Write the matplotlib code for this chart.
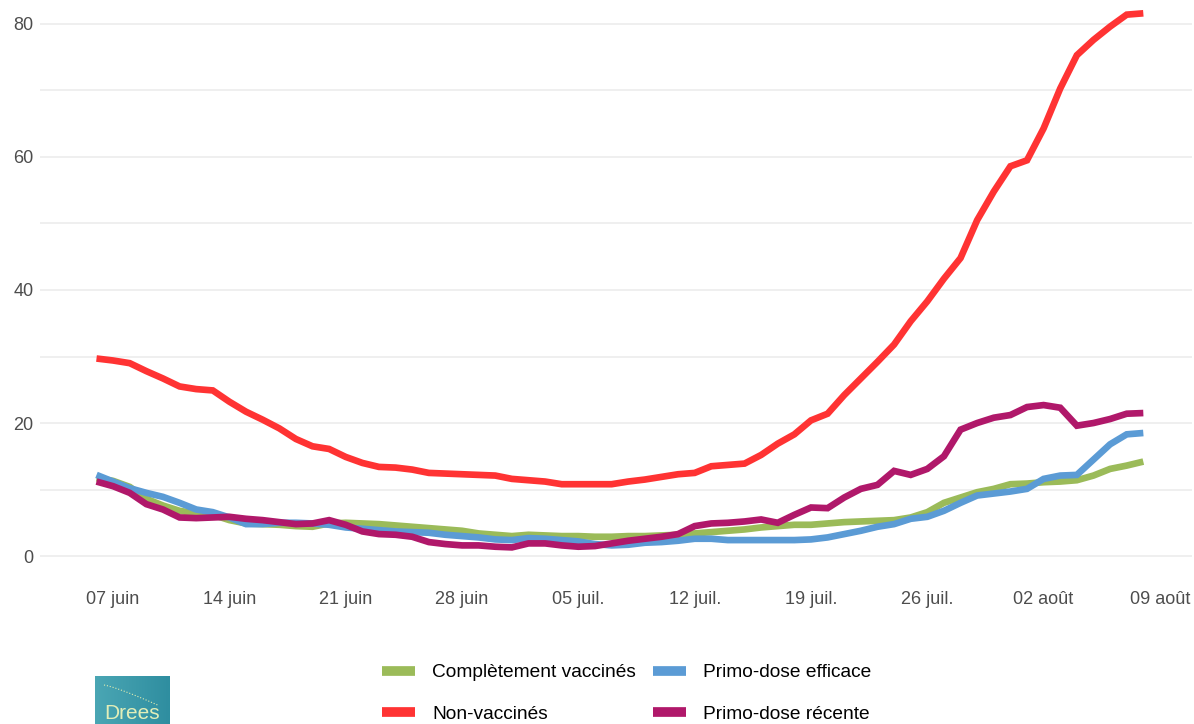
import numpy as np
import pandas as pd
import matplotlib
matplotlib.use('Agg')
import matplotlib.pyplot as plt
from matplotlib.lines import Line2D

plt.rcParams['font.family'] = ['Liberation Sans', 'DejaVu Sans']

# daily values, 06 juin -> 08 aout 2021
dates = pd.date_range('2021-06-06', '2021-08-08', freq='D')

complet = [11.7, 11.3, 10.4, 8.6, 7.6, 6.8, 6.4, 6.2, 5.4, 4.9,
           4.8, 4.7, 4.5, 4.4, 4.9, 5.0, 4.9, 4.8, 4.6, 4.4,
           4.2, 4.0, 3.8, 3.4, 3.2, 3.0, 3.2, 3.1, 3.0, 3.0,
           2.9, 2.9, 3.0, 3.0, 3.1, 3.2, 3.4, 3.6, 3.8, 4.0,
           4.3, 4.5, 4.7, 4.7, 4.9, 5.1, 5.2, 5.3, 5.4, 5.8,
           6.6, 8.0, 8.8, 9.6, 10.1, 10.8, 10.9, 11.1, 11.2, 11.4,
           12.1, 13.1, 13.6, 14.2]

primo_efficace = [12.2, 11.2, 10.2, 9.5, 8.9, 8.0, 7.0, 6.6, 5.8, 4.8,
                  4.8, 5.0, 5.0, 4.9, 4.7, 4.3, 4.1, 3.9, 3.7, 3.6,
                  3.5, 3.2, 3.0, 2.8, 2.5, 2.4, 2.7, 2.6, 2.4, 2.2,
                  1.8, 1.6, 1.7, 2.0, 2.1, 2.3, 2.6, 2.6, 2.4, 2.4,
                  2.4, 2.4, 2.4, 2.5, 2.8, 3.3, 3.8, 4.4, 4.8, 5.6,
                  5.9, 6.8, 8.0, 9.1, 9.4, 9.7, 10.1, 11.6, 12.1, 12.2,
                  14.5, 16.8, 18.3, 18.5]

non_vacc = [29.7, 29.4, 29.0, 27.8, 26.7, 25.5, 25.1, 24.9, 23.2, 21.7,
            20.5, 19.2, 17.6, 16.5, 16.1, 14.9, 14.0, 13.4, 13.3, 13.0,
            12.5, 12.4, 12.3, 12.2, 12.1, 11.6, 11.4, 11.2, 10.8, 10.8,
            10.8, 10.8, 11.2, 11.5, 11.9, 12.3, 12.5, 13.5, 13.7, 13.9,
            15.2, 16.9, 18.3, 20.4, 21.4, 24.2, 26.7, 29.2, 31.8, 35.3,
            38.3, 41.7, 44.8, 50.5, 54.8, 58.6, 59.5, 64.3, 70.3, 75.3,
            77.6, 79.6, 81.4, 81.6]

primo_recente = [11.2, 10.5, 9.5, 7.8, 7.0, 5.8, 5.7, 5.8, 5.9, 5.6,
                 5.4, 5.1, 4.8, 4.9, 5.4, 4.7, 3.7, 3.3, 3.2, 2.9,
                 2.1, 1.8, 1.6, 1.6, 1.4, 1.3, 1.9, 1.9, 1.6, 1.4,
                 1.5, 1.9, 2.3, 2.6, 2.9, 3.3, 4.5, 4.9, 5.0, 5.2,
                 5.5, 5.0, 6.2, 7.3, 7.2, 8.8, 10.1, 10.7, 12.8, 12.2,
                 13.1, 15.0, 19.0, 20.0, 20.8, 21.2, 22.4, 22.7, 22.3, 19.6,
                 20.0, 20.6, 21.4, 21.5]

tick_dates = pd.date_range('2021-06-07', '2021-08-09', freq='7D')
tick_labels = ['07 juin', '14 juin', '21 juin', '28 juin', '05 juil.',
               '12 juil.', '19 juil.', '26 juil.', '02 août', '09 août']

labels = ['Complètement vaccinés', 'Non-vaccinés',
          'Primo-dose efficace', 'Primo-dose récente']
colors = {'Complètement vaccinés': '#9bbb59',
          'Primo-dose efficace': '#5b9bd5',
          'Non-vaccinés': '#ff3333',
          'Primo-dose récente': '#b0186a'}

fig = plt.figure(figsize=(11.94, 7.24), dpi=100)
ax = fig.add_axes([40 / 1194, 148 / 724, 1152 / 1194, 572 / 724])

series = {'Complètement vaccinés': complet,
          'Primo-dose efficace': primo_efficace,
          'Non-vaccinés': non_vacc,
          'Primo-dose récente': primo_recente}
for name, vals in series.items():
    ax.plot(dates, vals, color=colors[name], lw=4.8,
            solid_joinstyle='miter', solid_capstyle='butt')

ax.set_ylim(-3, 83)
ax.set_xlim(pd.Timestamp('2021-06-07') - pd.Timedelta(days=4.4),
            pd.Timestamp('2021-08-09') + pd.Timedelta(days=1.93))
ax.set_yticks([0, 20, 40, 60, 80])
ax.set_yticks([10, 30, 50, 70], minor=True)
ax.set_xticks(tick_dates)
ax.set_xticklabels(tick_labels)
ax.grid(True, axis='y', which='both', color='#ebebeb', lw=1.1)
ax.set_axisbelow(True)
for s in ax.spines.values():
    s.set_visible(False)
ax.tick_params(axis='both', which='both', length=0, labelsize=13,
               labelcolor='#4d4d4d')
ax.tick_params(axis='x', pad=10.5)
ax.tick_params(axis='y', pad=4.5)

handles = [Line2D([], [], color=colors[l], lw=7, solid_capstyle='butt')
           for l in labels]
fig.legend(handles, labels, ncol=2, loc='upper left',
           bbox_to_anchor=(382 / 1194, 1 - 664 / 724), frameon=False,
           fontsize=13.8, borderpad=0, borderaxespad=0, handlelength=1.72,
           handletextpad=0.89, columnspacing=0.89, labelspacing=1.25)

# Drees logo
lax = fig.add_axes([95 / 1194, -12 / 724, 75 / 1194, 60 / 724])
grad = np.linspace(0, 1, 60).reshape(1, -1) * np.ones((60, 1))
lax.imshow(grad, cmap=matplotlib.colors.LinearSegmentedColormap.from_list(
    'drees', ['#4aa6b4', '#2f8ea0']), aspect='auto', extent=(0, 1, 0, 1))
t = np.linspace(0.12, 0.85, 20)
lax.plot(t, 0.85 - 0.5 * (t - 0.12) ** 1.2, ls=':', color='#e0ecb0', lw=0.8)
lax.text(0.5, 0.22, 'Drees', color='#e2eeb8', fontsize=15,
         ha='center', va='bottom', transform=lax.transAxes)
lax.set_xlim(0, 1)
lax.set_ylim(0, 1)
lax.axis('off')

fig.savefig('out.png', dpi=100)
